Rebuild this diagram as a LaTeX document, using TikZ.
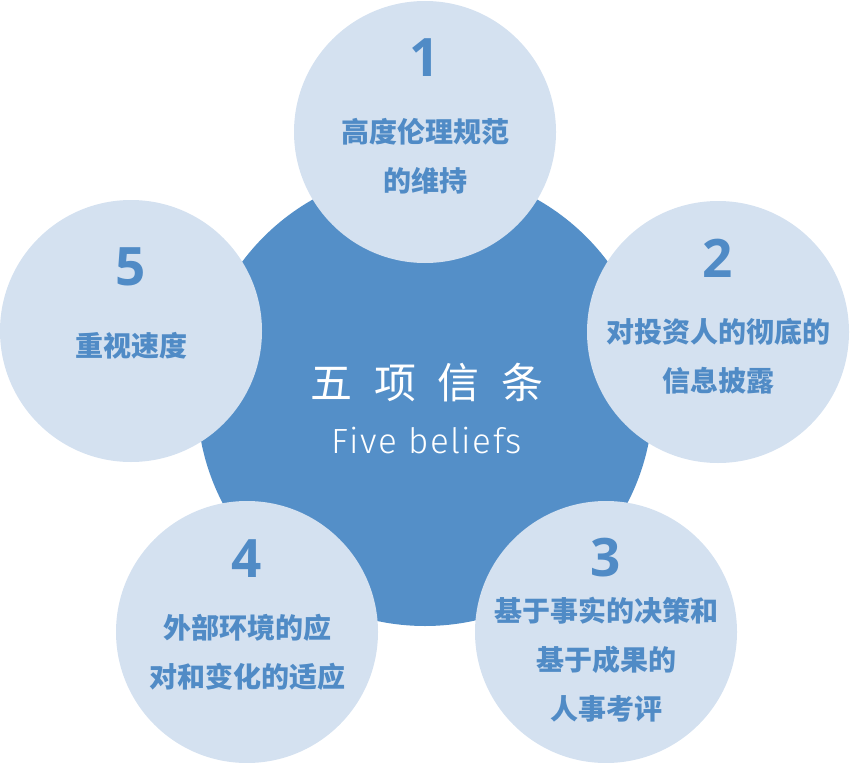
\documentclass[tikz,border=0pt]{standalone}
\usepackage{fontspec}
\setmainfont{Open Sans}
\newfontfamily\cjk{Noto Sans CJK SC}
\newfontfamily\thinfont{Fira Sans Light}[LetterSpace=4.5]
\usetikzlibrary{positioning}
\definecolor{bfblue}{RGB}{84,143,200}
\definecolor{bflight}{RGB}{212,225,240}
\definecolor{bftext}{RGB}{80,139,198}

\begin{document}
\begin{tikzpicture}[x=1pt,y=-1pt,
    belief/.style={circle,fill=bflight,minimum size=262pt,inner sep=0pt},
    numlabel/.style={text=bftext,font=\bfseries\fontsize{53}{53}\selectfont},
    beliefText/.style={text=bftext,align=center,font=\cjk\bfseries\fontsize{28}{49}\selectfont}]
        \useasboundingbox (0,0) rectangle (850,762);
        % core circle
        \node[circle,fill=bfblue,minimum size=456pt,inner sep=0pt] (core) at (425,398) {};
        \node[text=white,font={\cjk\fontsize{42}{42}\selectfont\spaceskip=21.7pt\relax}] (title) at (427,383) {五 项 信 条};
        \node[text=white,anchor=base,font=\thinfont\fontsize{35}{35}\selectfont] (sub) at (427,453) {Five beliefs};
        % the five beliefs
        \node[belief] (b1) at (425,132) {};
        \node[belief] (b2) at (718,332) {};
        \node[belief] (b3) at (606,632) {};
        \node[belief] (b4) at (247,632) {};
        \node[belief] (b5) at (131,331) {};
        \node[numlabel] (n1) at (425,58) {1};
        \node[numlabel] (n2) at (718,258) {2};
        \node[numlabel] (n3) at (606,558) {3};
        \node[numlabel] (n4) at (247,559) {4};
        \node[numlabel] (n5) at (131,267) {5};
        \node[beliefText] (t1) at (425,156) {高度伦理规范\\的维持};
        \node[beliefText] (t2) at (718,356) {对投资人的彻底的\\信息披露};
        \node[beliefText] (t3) at (606,660) {基于事实的决策和\\基于成果的\\人事考评};
        \node[beliefText] (t4) at (247,652) {外部环境的应\\对和变化的适应};
        \node[beliefText] (t5) at (131,346) {重视速度};
      \end{tikzpicture}
\end{document}
